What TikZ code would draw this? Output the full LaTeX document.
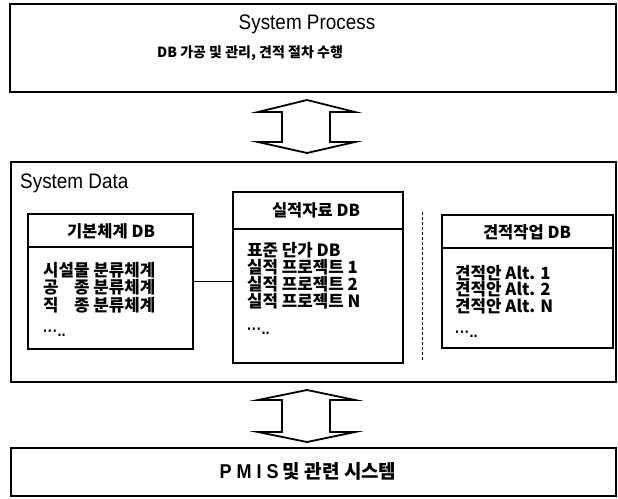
\documentclass[tikz,border=0pt]{standalone}
\usepackage{fontspec}
\setmainfont{Noto Sans CJK KR}
\newfontfamily\kr{Noto Sans CJK KR}
\newfontfamily\lat[FakeStretch=0.9]{Liberation Sans}
\newcommand{\spreadpair}[2]{\sbox0{시설물}\makebox[\wd0][s]{#1\hfill #2}}
\newcommand{\mydots}{{\lat\fontsize{16}{17}\selectfont ···..}}
\begin{document}
\begin{tikzpicture}[x=1pt,y=-1pt,
  outer/.style={draw, line width=2.8pt, inner sep=0pt, minimum width=#1},
  dbbox/.style={draw, line width=2.2pt, inner sep=0pt},
  divider/.style={line width=2pt},
  hdr/.style={font=\kr\bfseries\fontsize{16.5}{18}\selectfont, inner sep=0pt},
  bodyline/.style={font=\kr\bfseries\fontsize{16.8}{17}\selectfont, inner sep=0pt, anchor=base west},
  title/.style={font=\lat\fontsize{21}{24}\selectfont, inner sep=0pt},
  twoway/.style={draw, line width=1.8pt, line join=miter, fill=white},
  sep/.style={densely dashed, line width=0.8pt}
]
\useasboundingbox (0,0) rectangle (618,498);

% top box
\node[outer=606pt, minimum height=88pt] (proc) at (313,48) {};
\node[title] (proct) at (307,24) {System Process};
\node[font=\kr\bfseries\fontsize{14}{16}\selectfont, inner sep=0pt] (procs) at (250,53) {DB 가공 및 관리, 견적 절차 수행};

% arrow 1
\draw[twoway] (307,100) -- (355,112) -- (330,112) -- (330,142) -- (355,142) -- (307,153)
  -- (258,142) -- (282,142) -- (282,112) -- (258,112) -- cycle;

% system data box
\node[outer=605pt, minimum height=220pt] (sysd) at (313.5,272) {};
\node[title, anchor=west] (sysdt) at (20,183) {System Data};

% left DB box
\node[dbbox, minimum width=165pt, minimum height=135pt] (lbox) at (110.5,281.5) {};
\draw[divider] (lbox.west |- 0,247) -- (lbox.east |- 0,247);
\node[hdr] (lh) at (111,231) {기본체계 DB};
\node[bodyline] (l1) at (43,276) {시설물 분류체계};
\node[bodyline] (l2) at (43,293.5) {\spreadpair{공}{종} 분류체계};
\node[bodyline] (l3) at (43,311) {\spreadpair{직}{종} 분류체계};
\node[bodyline] (l4) at (43,336) {\mydots};

% center DB box
\node[dbbox, minimum width=170pt, minimum height=171pt] (cbox) at (318,277.5) {};
\draw[divider] (cbox.west |- 0,229) -- (cbox.east |- 0,229);
\node[hdr] (ch) at (316,210) {실적자료 DB};
\node[bodyline] (c1) at (247,256) {표준 단가 DB};
\node[bodyline] (c2) at (247,273.3) {실적 프로젝트 1};
\node[bodyline] (c3) at (247,290.6) {실적 프로젝트 2};
\node[bodyline] (c4) at (247,307.9) {실적 프로젝트 N};
\node[bodyline] (c5) at (247,334) {\mydots};

% separator
\coordinate (s1) at (422,212);
\coordinate (s2) at (422,362);
\draw[sep] (s1) -- (s2);

% right DB box
\node[dbbox, minimum width=171pt, minimum height=133pt] (rbox) at (527.5,281.5) {};
\draw[divider] (rbox.west |- 0,248) -- (rbox.east |- 0,248);
\node[hdr] (rh) at (527,232) {견적작업 DB};
\node[bodyline] (r1) at (455,279) {견적안 Alt. 1};
\node[bodyline] (r2) at (455,295.5) {견적안 Alt. 2};
\node[bodyline] (r3) at (455,312) {견적안 Alt. N};
\node[bodyline] (r4) at (455,337) {\mydots};

% connector
\draw[line width=1.3pt] (lbox.east) -- (lbox.east -| cbox.west);

% arrow 2
\draw[twoway] (307,390) -- (355,400) -- (330,400) -- (330,432) -- (355,432) -- (307,442)
  -- (258,432) -- (282,432) -- (282,400) -- (258,400) -- cycle;

% bottom box
\node[outer=605pt, minimum height=48pt] (pmis) at (313.5,472) {};
\node[font=\kr\bfseries\fontsize{19}{21}\selectfont, inner sep=0pt] (pmist) at (308,471)
  {{\lat\fontsize{20}{21}\selectfont P\hspace{5pt}M\hspace{5pt}I\hspace{5pt}S} 및 관련 시스템};
\end{tikzpicture}
\end{document}
